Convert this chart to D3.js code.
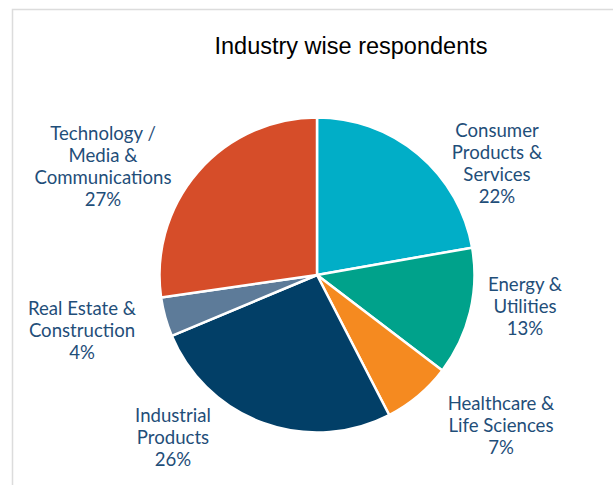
<!DOCTYPE html>
<html>
<head>
<meta charset="utf-8">
<script src="https://cdn.jsdelivr.net/npm/d3@7"></script>
<style>
  html, body { margin: 0; padding: 0; background: #fff; }
  svg { display: block; }
</style>
</head>
<body>
<svg id="chart" width="613" height="485"></svg>
<script>
// Industry breakdown of survey respondents (percent)
const categories = [
  "Consumer Products & Services",
  "Energy & Utilities",
  "Healthcare & Life Sciences",
  "Industrial Products",
  "Real Estate & Construction",
  "Technology / Media & Communications"
];
const values = [22, 13, 7, 26, 4, 27];
const labelLines = [
  ["Consumer", "Products &", "Services"],
  ["Energy &", "Utilities"],
  ["Healthcare &", "Life Sciences"],
  ["Industrial", "Products"],
  ["Real Estate &", "Construction"],
  ["Technology /", "Media &", "Communications"]
];
const colors = ["#01AEC7", "#00A28B", "#F58A20", "#023F67", "#5D7B99", "#D64D29"];

// Label block anchors: centre x and first baseline, relative to the pie centre
const labelAnchor = [
  [180, -138], [208, 16], [184, 135], [-144, 147], [-235, 40], [-214, -135]
];

const W = 613, H = 485;
const cx = 317, cy = 275, radius = 157.5;
const lineH = 22;

const svg = d3.select("#chart");

// Frame
svg.append("path")
  .attr("d", `M12.5,${H} L12.5,9.5 L${W},9.5`)
  .attr("fill", "none")
  .attr("stroke", "#dcdcdc")
  .attr("stroke-width", 1.5);

// Title
svg.append("text")
  .attr("x", 351)
  .attr("y", 54)
  .attr("text-anchor", "middle")
  .attr("font-family", "'Liberation Sans', Arial, sans-serif")
  .attr("font-size", 23.5)
  .attr("fill", "#000")
  .text("Industry wise respondents");

const data = categories.map((c, i) => ({ name: c, value: values[i], i }));
const pie = d3.pie().value(d => d.value).sort(null);
const arc = d3.arc().innerRadius(0).outerRadius(radius);
const color = d3.scaleOrdinal().domain(categories).range(colors);

const g = svg.append("g").attr("transform", `translate(${cx},${cy})`);

g.selectAll("path.slice")
  .data(pie(data))
  .join("path")
  .attr("class", "slice")
  .attr("d", arc)
  .attr("fill", d => color(d.data.name))
  .attr("stroke", "#fff")
  .attr("stroke-width", 2.5)
  .attr("stroke-linejoin", "round");

// Category labels with percentages
const labels = g.selectAll("text.label")
  .data(pie(data))
  .join("text")
  .attr("class", "label")
  .attr("text-anchor", "middle")
  .attr("font-family", "Lato, 'Open Sans', sans-serif")
  .attr("font-size", 18.6)
  .attr("fill", "#1F4E79");

labels.each(function(d) {
  const t = d3.select(this);
  const [ax, ay] = labelAnchor[d.data.i];
  const lines = labelLines[d.data.i].concat([d.data.value + "%"]);
  lines.forEach((ln, k) => {
    t.append("tspan")
      .attr("x", ax)
      .attr("y", ay + k * lineH)
      .text(ln);
  });
});
</script>
</body>
</html>
